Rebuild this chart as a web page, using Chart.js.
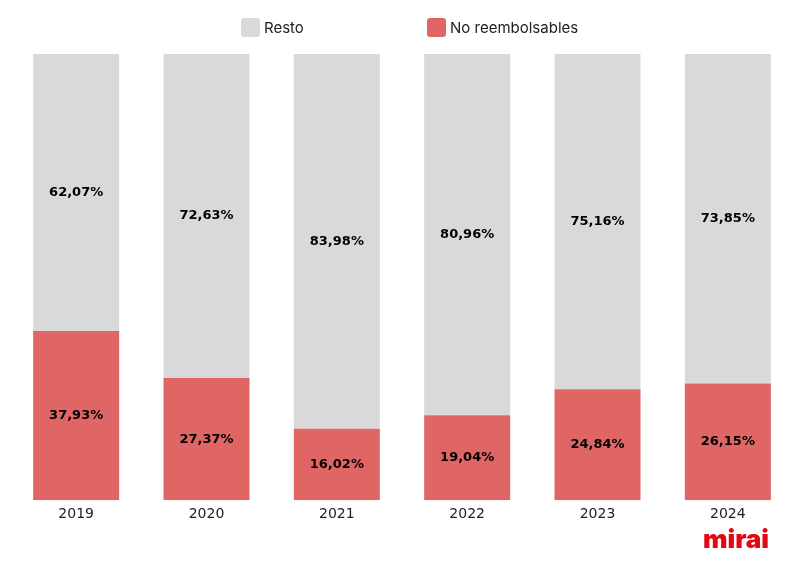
<!DOCTYPE html>
<html>
<head>
<meta charset="utf-8">
<script src="https://cdn.jsdelivr.net/npm/chart.js@4/dist/chart.umd.min.js"></script>
<style>
html,body{margin:0;padding:0;background:#fff;}
#c{display:block;}
</style>
</head>
<body>
<canvas id="c" width="801" height="565"></canvas>
<script>
const categories = ['2019','2020','2021','2022','2023','2024'];
const noReembolsables = [37.93, 27.37, 16.02, 19.04, 24.84, 26.15];
const resto = [62.07, 72.63, 83.98, 80.96, 75.16, 73.85];
const seriesNames = ['No reembolsables', 'Resto'];
const colors = ['#e06666', '#d9d9d9'];

function fmt(v){ return v.toFixed(2).replace('.', ',') + '%'; }

const labelPlugin = {
  id: 'labels',
  afterDatasetsDraw(chart){
    const ctx = chart.ctx;
    ctx.save();
    ctx.font = 'bold 13px "DejaVu Sans"';
    ctx.fillStyle = '#000';
    ctx.textAlign = 'center';
    ctx.textBaseline = 'middle';
    chart.data.datasets.forEach((ds, di) => {
      const meta = chart.getDatasetMeta(di);
      meta.data.forEach((bar, i) => {
        const y = (bar.y + bar.base) / 2;
        ctx.fillText(fmt(ds.data[i]), bar.x, y);
      });
    });
    ctx.restore();
  }
};

const legendPlugin = {
  id: 'customLegend',
  afterDraw(chart){
    const ctx = chart.ctx;
    ctx.save();
    const items = [
      {text: seriesNames[1], color: colors[1], x: 241},
      {text: seriesNames[0], color: colors[0], x: 427}
    ];
    ctx.font = '15px Inter';
    ctx.textBaseline = 'middle';
    ctx.textAlign = 'left';
    items.forEach(it => {
      ctx.fillStyle = it.color;
      ctx.beginPath();
      ctx.roundRect(it.x, 18, 19, 19, 3);
      ctx.fill();
      ctx.fillStyle = '#222';
      ctx.fillText(it.text, it.x + 23, 28);
    });
    // logo
    ctx.font = '900 26px Inter';
    ctx.fillStyle = '#e30613';
    ctx.textAlign = 'right';
    ctx.textBaseline = 'alphabetic';
    ctx.fillText('mirai', 769, 548);
    ctx.restore();
  }
};

new Chart(document.getElementById('c'), {
  type: 'bar',
  data: {
    labels: categories,
    datasets: [
      {label: seriesNames[0], data: noReembolsables, backgroundColor: colors[0], borderWidth: 0},
      {label: seriesNames[1], data: resto, backgroundColor: colors[1], borderWidth: 0}
    ]
  },
  options: {
    responsive: false,
    animation: false,
    devicePixelRatio: 1,
    categoryPercentage: 1,
    barPercentage: 0.66,
    layout: {padding: {left: 11, right: 8, top: 54, bottom: 36}},
    plugins: {legend: {display: false}, tooltip: {enabled: false}},
    scales: {
      x: {
        stacked: true,
        grid: {display: false, drawTicks: false, tickLength: 0},
        border: {display: false},
        ticks: {color: '#222', font: {family: 'DejaVu Sans', size: 14}, padding: 6}
      },
      y: {
        stacked: true,
        display: false,
        min: 0,
        max: 100
      }
    }
  },
  plugins: [labelPlugin, legendPlugin]
});
</script>
</body>
</html>
